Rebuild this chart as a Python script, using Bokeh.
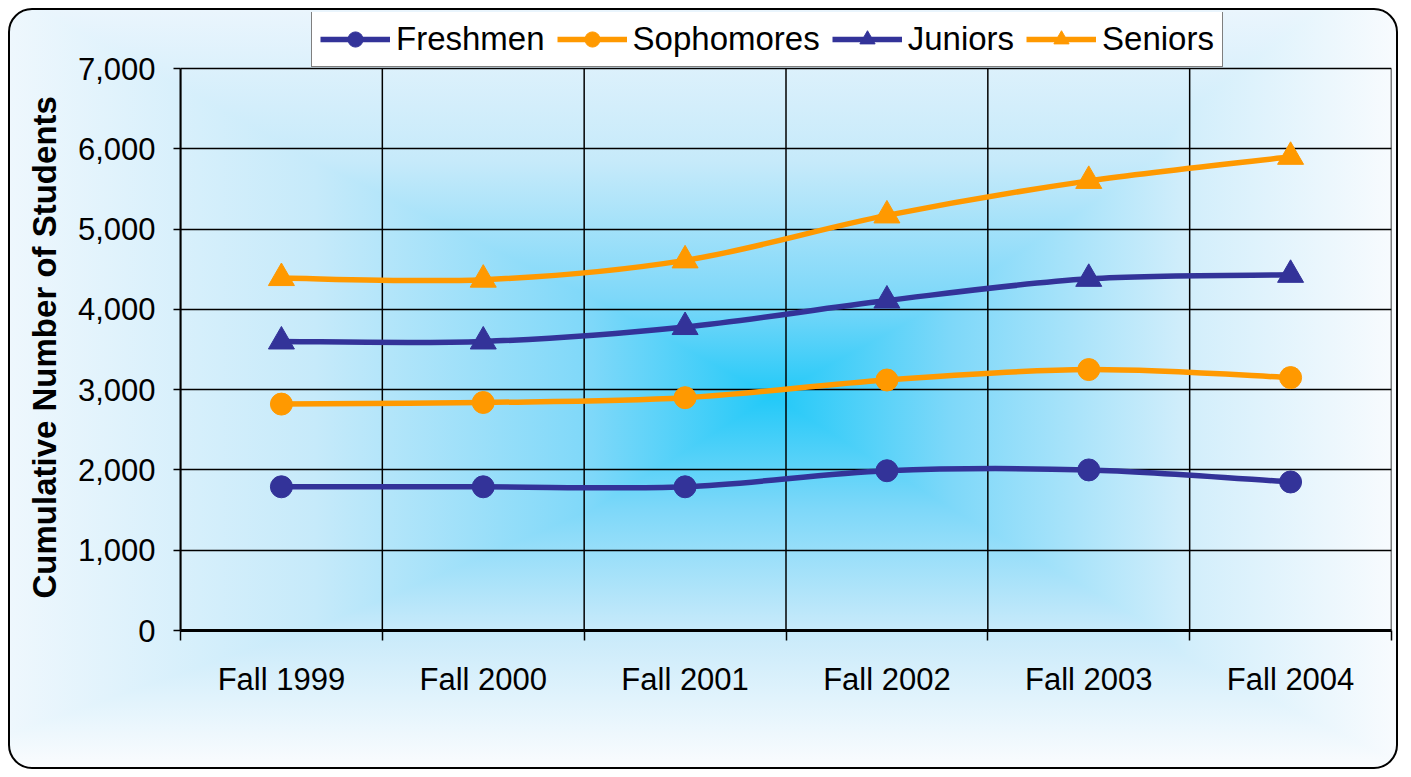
from bokeh.plotting import figure
from bokeh.models import (Range1d, FixedTicker, NumeralTickFormatter, Legend, LegendItem,
                          ColumnDataSource, Title)
from bokeh.embed import file_html
from bokeh.resources import INLINE

categories = ["Fall 1999", "Fall 2000", "Fall 2001", "Fall 2002", "Fall 2003", "Fall 2004"]
freshmen = [1790, 1790, 1790, 1990, 2000, 1850]
sophomores = [2820, 2840, 2900, 3120, 3250, 3150]
juniors = [3600, 3600, 3780, 4110, 4380, 4430]
seniors = [4390, 4370, 4610, 5170, 5600, 5900]
y_ticks = [0, 1000, 2000, 3000, 4000, 5000, 6000, 7000]

NAVY = "#333399"
ORANGE = "#FF9900"
FONT = "Liberation Sans"

n = len(categories)
xc = [i + 0.5 for i in range(n)]
y_min, y_max = 0, 7000

# frame: plot area 562px tall for 0..7000, plus 56px of headroom above for the legend
FRAME_TOP, PLOT_H, HEADROOM = 2, 562, 56
y_top = y_max + HEADROOM * (y_max - y_min) / PLOT_H

p = figure(width=1390, height=761, output_backend="svg", toolbar_location=None,
           x_range=Range1d(0, n), y_range=Range1d(y_min, y_top),
           min_border_left=170, min_border_right=9, min_border_top=FRAME_TOP,
           min_border_bottom=141)
p.border_fill_color = None
p.background_fill_color = None
p.outline_line_color = None

bg = ("linear-gradient(to right, #EEF7FD 0%, #C6EAFA 22%, #7ED8F9 42%, #22C9F8 55%, "
      "#7ED8F9 68%, #D2EEFB 85%, #F8FBFE 100%), "
      "linear-gradient(to bottom, #EAF5FD 0%, #C6EAFA 20%, #7ED8F9 38%, #22C9F8 51%, "
      "#7ED8F9 66%, #C8EAFA 82%, #FAFCFE 100%)")
p.styles = {"border": "2px solid #000000", "border-radius": "24px",
            "margin": "8px 0px 0px 8px",
            "background": bg, "background-blend-mode": "lighten"}

# x axis: labels at category centres, ticks at boundaries
p.xaxis.ticker = FixedTicker(ticks=xc, minor_ticks=list(range(n + 1)))
p.xaxis.major_label_overrides = {x: c for x, c in zip(xc, categories)}
p.xaxis.major_tick_line_alpha = 0
p.xaxis.major_tick_out = 10
p.xaxis.major_tick_in = 0
p.xaxis.minor_tick_out = 10
p.xaxis.minor_tick_in = 0
p.xaxis.minor_tick_line_color = "black"
p.xaxis.minor_tick_line_width = 1.5
p.xaxis.axis_line_width = 3
p.xaxis.axis_line_color = "black"
p.xaxis.major_label_standoff = 21
p.xaxis.major_label_text_font = FONT
p.xaxis.major_label_text_font_size = "31px"
p.xaxis.major_label_text_color = "black"
p.xgrid.visible = False

# vertical grid lines at category boundaries, spanning the value axis only
bounds = list(range(n + 1))
p.segment(x0=bounds, y0=[y_min] * len(bounds), x1=bounds, y1=[y_max] * len(bounds),
          line_color="black", line_width=1.5)

p.yaxis.ticker = FixedTicker(ticks=y_ticks)
p.yaxis.bounds = (y_min, y_max)
p.yaxis.formatter = NumeralTickFormatter(format="0,0")
p.yaxis.major_tick_out = 7
p.yaxis.major_tick_in = 0
p.yaxis.major_tick_line_width = 1.5
p.yaxis.axis_line_width = 2
p.yaxis.major_label_standoff = 18
p.yaxis.major_label_text_font = FONT
p.yaxis.major_label_text_font_size = "31px"
p.yaxis.major_label_text_color = "black"
p.ygrid.ticker = FixedTicker(ticks=y_ticks)
p.ygrid.grid_line_color = "black"
p.ygrid.grid_line_width = 1.5

# value-axis title, centred on the 0..7000 plot area
ytitle = Title(text="Cumulative Number of Students", align="left", offset=32, standoff=23,
               text_font=FONT, text_font_size="33px", text_font_style="bold",
               text_color="black")
p.add_layout(ytitle, "left")


def smooth_segments(xs, ys):
    # cubic Bezier segments (Catmull-Rom style smoothing, like a smoothed line chart)
    m = len(xs)
    out = {k: [] for k in ("x0", "y0", "x1", "y1", "cx0", "cy0", "cx1", "cy1")}
    for i in range(m - 1):
        ip = max(i - 1, 0)
        inn = min(i + 2, m - 1)
        out["x0"].append(xs[i]); out["y0"].append(ys[i])
        out["x1"].append(xs[i + 1]); out["y1"].append(ys[i + 1])
        out["cx0"].append(xs[i] + (xs[i + 1] - xs[ip]) / 6)
        out["cy0"].append(ys[i] + (ys[i + 1] - ys[ip]) / 6)
        out["cx1"].append(xs[i + 1] - (xs[inn] - xs[i]) / 6)
        out["cy1"].append(ys[i + 1] - (ys[inn] - ys[i]) / 6)
    return ColumnDataSource(out)


series = [("Freshmen", freshmen, NAVY, "circle", 22),
          ("Sophomores", sophomores, ORANGE, "circle", 22),
          ("Juniors", juniors, NAVY, "triangle", 26),
          ("Seniors", seniors, ORANGE, "triangle", 26)]

items = []
for name, vals, col, mk, sz in series:
    src = smooth_segments(xc, vals)
    b = p.bezier(x0="x0", y0="y0", x1="x1", y1="y1", cx0="cx0", cy0="cy0",
                 cx1="cx1", cy1="cy1", source=src, line_color=col, line_width=5.5)
    s = p.scatter(xc, vals, marker=mk, size=sz, fill_color=col, line_color=col)
    items.append(LegendItem(label=name, renderers=[b, s]))

legend = Legend(items=items, orientation="horizontal", location=(131, PLOT_H + 1))
legend.margin = 0
legend.padding = 8
legend.spacing = 12
legend.glyph_width = 70
legend.glyph_height = 38
legend.label_standoff = 6
legend.label_text_font = FONT
legend.label_text_font_size = "33px"
legend.label_text_color = "black"
legend.border_line_color = "black"
legend.border_line_width = 1.5
legend.background_fill_color = "white"
legend.background_fill_alpha = 1
p.add_layout(legend, "center")

open("out.html", "w").write(file_html(p, INLINE))
